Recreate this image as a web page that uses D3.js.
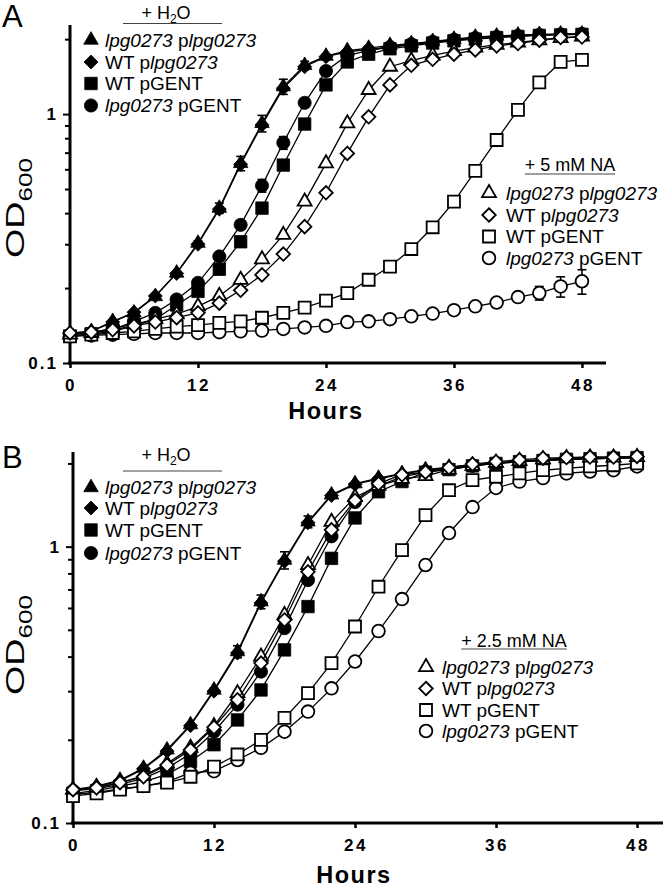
<!DOCTYPE html>
<html><head><meta charset="utf-8">
<script src="https://cdn.jsdelivr.net/npm/d3@7"></script>
<style>body{margin:0;background:#fff}svg{display:block}</style>
</head><body>
<svg id="c" width="666" height="887"></svg>
<script>
// ---------- data ----------
const hours = [0,2,4,6,8,10,12,14,16,18,20,22,24,26,28,30,32,34,36,38,40,42,44,46,48];
const xTickValues = [0,12,24,36,48];
const yTickValues = [0.1,0.2,0.3,0.4,0.5,0.6,0.7,0.8,0.9,1,2];
const yTickLabels = ["0.1","1"];
const strainLabels = ["lpg0273 plpg0273","WT plpg0273","WT pGENT","lpg0273 pGENT"];
const panelLetters = ["A","B"];
const treatmentLabels = ["+ H2O","+ 5 mM NA","+ 2.5 mM NA"];

// Panel A, + H2O (filled symbols)
const A_h2o_lpg_plpg = [0.132,0.134,0.147,0.159,0.185,0.230,0.303,0.419,0.634,0.918,1.29,1.57,1.71,1.80,1.84,1.89,1.92,1.96,2.00,2.04,2.06,2.08,2.09,2.10,2.10];
const A_h2o_wt_plpg  = [0.131,0.134,0.146,0.160,0.186,0.229,0.300,0.415,0.628,0.905,1.27,1.55,1.70,1.78,1.82,1.86,1.90,1.94,1.98,2.02,2.04,2.06,2.08,2.09,2.10];
const A_h2o_wt_pgent = [0.128,0.131,0.134,0.141,0.150,0.171,0.194,0.238,0.307,0.419,0.624,0.912,1.31,1.62,1.74,1.83,1.88,1.93,1.97,2.00,2.03,2.05,2.07,2.08,2.09];
const A_h2o_lpg_pgent= [0.130,0.132,0.136,0.147,0.159,0.180,0.210,0.268,0.359,0.516,0.767,1.11,1.49,1.72,1.80,1.86,1.91,1.95,1.99,2.02,2.04,2.06,2.08,2.09,2.10];
// Panel A, + 5 mM NA (open symbols)
const A_na_lpg_plpg  = [0.130,0.132,0.138,0.143,0.150,0.157,0.169,0.186,0.216,0.261,0.327,0.445,0.634,0.918,1.25,1.55,1.64,1.72,1.79,1.85,1.90,1.94,1.98,2.02,2.05];
const A_na_wt_plpg   = [0.132,0.133,0.136,0.141,0.146,0.152,0.159,0.174,0.196,0.226,0.274,0.353,0.483,0.695,0.975,1.31,1.57,1.66,1.74,1.81,1.88,1.92,1.98,2.03,2.04];
const A_na_wt_pgent  = [0.128,0.130,0.132,0.134,0.137,0.140,0.142,0.145,0.147,0.152,0.159,0.167,0.178,0.191,0.216,0.244,0.287,0.351,0.445,0.591,0.787,1.04,1.34,1.62,1.65];
const A_na_lpg_pgent = [0.128,0.129,0.130,0.131,0.132,0.132,0.132,0.133,0.134,0.135,0.137,0.139,0.141,0.146,0.147,0.150,0.154,0.158,0.163,0.169,0.175,0.184,0.191,0.203,0.213];
// Panel A error bars (SD)
const A_err_h2o_lpg_plpg  = [0,0,0,0,0,0,0.006,0.02,0.042,0.07,0.09,0.06,0.03,0,0,0,0,0,0,0,0,0,0,0,0];
const A_err_h2o_lpg_pgent = [0,0,0,0,0,0,0,0,0.012,0.03,0.045,0.04,0.02,0,0,0,0,0,0,0,0,0,0,0,0];
const A_err_na_lpg_pgent  = [0,0,0,0,0,0,0,0,0,0,0,0,0,0,0,0,0,0,0,0,0,0.006,0.012,0.019,0.024];

// Panel B, + H2O (filled symbols)
const B_h2o_lpg_plpg = [0.132,0.136,0.143,0.158,0.184,0.227,0.303,0.417,0.632,0.894,1.23,1.54,1.69,1.77,1.84,1.90,1.94,1.98,2.01,2.04,2.06,2.08,2.09,2.10,2.10];
const B_h2o_wt_plpg  = [0.131,0.135,0.142,0.157,0.182,0.225,0.300,0.412,0.625,0.885,1.22,1.53,1.68,1.76,1.83,1.89,1.93,1.97,2.00,2.03,2.05,2.07,2.08,2.09,2.10];
const B_h2o_wt_pgent = [0.128,0.131,0.136,0.141,0.150,0.167,0.192,0.236,0.303,0.423,0.607,0.907,1.27,1.58,1.72,1.86,1.90,1.96,2.00,2.03,2.05,2.07,2.08,2.09,2.10];
const B_h2o_lpg_pgent= [0.131,0.133,0.138,0.145,0.158,0.178,0.214,0.268,0.353,0.507,0.757,1.09,1.45,1.66,1.79,1.86,1.91,1.96,2.00,2.03,2.05,2.07,2.08,2.09,2.10];
// Panel B, + 2.5 mM NA (open symbols)
const B_na_lpg_plpg  = [0.132,0.134,0.140,0.148,0.164,0.187,0.224,0.295,0.400,0.566,0.858,1.23,1.51,1.66,1.76,1.80,1.90,1.96,2.01,2.04,2.07,2.09,2.10,2.10,2.11];
const B_na_wt_plpg   = [0.132,0.134,0.140,0.147,0.162,0.184,0.222,0.279,0.379,0.543,0.811,1.15,1.47,1.69,1.82,1.86,1.93,1.99,2.03,2.06,2.09,2.10,2.11,2.11,2.12];
const B_na_wt_pgent  = [0.125,0.128,0.132,0.136,0.140,0.147,0.160,0.177,0.200,0.240,0.295,0.379,0.514,0.716,0.972,1.30,1.60,1.74,1.79,1.84,1.89,1.92,1.95,1.97,2.00];
const B_na_lpg_pgent = [0.127,0.129,0.133,0.136,0.141,0.152,0.154,0.169,0.187,0.214,0.253,0.307,0.384,0.495,0.646,0.858,1.12,1.39,1.63,1.72,1.77,1.84,1.87,1.89,1.95];
// Panel B error bars (SD)
const B_err_h2o_lpg_plpg  = [0,0,0,0,0,0,0.005,0.021,0.036,0.064,0.06,0.03,0,0,0,0,0,0,0,0,0,0,0,0,0];

// ---------- drawing ----------
const svg = d3.select("#c");
const FONT = "'Liberation Sans', Arial, sans-serif";

function symPath(shape, s) {
  if (shape === "diamond") {
    const r = s * 0.52;
    return `M0,${-r}L${r},0L0,${r}L${-r},0Z`;
  }
  if (shape === "triangle") return d3.symbol(d3.symbolTriangle, s * s * 0.5)();
  if (shape === "square") return d3.symbol(d3.symbolSquare, s * s * 0.85)();
  return d3.symbol(d3.symbolCircle, s * s * 0.75)();
}

function drawPanel(cfg) {
  const g = svg.append("g");
  const x = d3.scaleLinear().domain([0, 50]).range(cfg.xr);
  const y = d3.scaleLog().domain(cfg.yd).range(cfg.yr);

  // axes
  const xAxis = d3.axisBottom(x).tickValues(xTickValues).tickSize(5).tickSizeOuter(0).tickFormat("");
  const gx = g.append("g").attr("transform", `translate(0,${cfg.yr[0]})`).call(xAxis);
  gx.select(".domain").attr("stroke-width", 3).attr("d", `M${cfg.xr[0]-2},0H${cfg.xEnd}`);
  gx.selectAll(".tick line").attr("stroke-width", 2.5);
  const yAxis = d3.axisLeft(y).tickValues(yTickValues).tickSize(5).tickSizeOuter(0).tickFormat("");
  const gy = g.append("g").attr("transform", `translate(${cfg.xr[0]},0)`).call(yAxis);
  gy.select(".domain").attr("stroke-width", 3).attr("d", `M0,${cfg.yr[0]+1.5}V${cfg.yr[1]}`);
  gy.selectAll(".tick line").attr("stroke-width", 2).attr("x2", d => (d === 1 || d === 0.1) ? -7 : -5);

  // tick labels
  g.selectAll(".xl").data(xTickValues).enter().append("text")
    .attr("x", d => x(d) + 1).attr("y", cfg.yr[0] + 28)
    .attr("text-anchor", "middle").attr("font-family", FONT).attr("font-weight", "bold")
    .attr("font-size", 17).attr("letter-spacing", 2.5).text(d => d);
  g.selectAll(".yl").data([0.1, 1]).enter().append("text")
    .attr("x", cfg.xr[0] - 12).attr("y", d => y(d) + 6)
    .attr("text-anchor", "end").attr("font-family", FONT).attr("font-weight", "bold")
    .attr("font-size", 17).attr("letter-spacing", 2).text((d, i) => yTickLabels[i]);

  // axis titles
  g.append("text").attr("x", cfg.hoursX).attr("y", cfg.yr[0] + cfg.hoursDy)
    .attr("text-anchor", "middle").attr("font-family", FONT)
    .attr("font-weight", "bold").attr("font-size", 23.5).attr("letter-spacing", 1.5).text("Hours");
  const od = g.append("text").attr("transform", `translate(${cfg.odX},${cfg.odY}) rotate(-90) scale(1.45,1)`)
    .attr("text-anchor", "middle").attr("font-family", FONT).attr("font-size", 26);
  od.append("tspan").text("OD");
  od.append("tspan").attr("font-size", 18).attr("dy", 8).text("600");

  // panel letter
  g.append("text").attr("x", 2).attr("y", cfg.letterY).attr("font-family", FONT)
    .attr("font-size", 31).text(cfg.letter);

  // series
  cfg.series.forEach(s => {
    const pts = hours.map((t, i) => ({ t, v: s.values[i], e: s.err ? s.err[i] : 0 }));
    g.append("path").datum(pts).attr("fill", "none").attr("stroke", "#000").attr("stroke-width", 1.3)
      .attr("d", d3.line().x(d => x(d.t)).y(d => y(d.v)));
    const eb = pts.filter(d => d.e > 0);
    const ge = g.append("g").attr("stroke", "#000").attr("stroke-width", 1.6);
    eb.forEach(d => {
      const y1 = y(d.v + d.e), y2 = y(d.v - d.e), cx = x(d.t);
      ge.append("line").attr("x1", cx).attr("x2", cx).attr("y1", y1).attr("y2", y2);
      ge.append("line").attr("x1", cx - 4.5).attr("x2", cx + 4.5).attr("y1", y1).attr("y2", y1);
      ge.append("line").attr("x1", cx - 4.5).attr("x2", cx + 4.5).attr("y1", y2).attr("y2", y2);
    });
    g.append("g").selectAll("path").data(pts).enter().append("path")
      .attr("transform", d => `translate(${x(d.t)},${y(d.v)})`)
      .attr("d", symPath(s.shape, s.filled ? 13.5 : 13))
      .attr("fill", s.filled ? "#000" : "#fff").attr("stroke", "#000")
      .attr("stroke-width", s.filled ? 0.8 : 1.8);
  });

  // legends
  cfg.legends.forEach(L => {
    const lg = g.append("g");
    const head = lg.append("text").attr("x", L.headX).attr("y", L.headY).attr("text-anchor", "middle")
      .attr("font-family", FONT).attr("font-size", 18);
    if (L.title === treatmentLabels[0]) {
      head.append("tspan").text("+ H");
      head.append("tspan").attr("font-size", 12).attr("dy", 4).text("2");
      head.append("tspan").attr("dy", -4).text("O");
      lg.append("line").attr("x1", L.lineX[0]).attr("x2", L.lineX[1]).attr("y1", L.lineY).attr("y2", L.lineY)
        .attr("stroke", "#444").attr("stroke-width", 1.2);
    } else {
      head.text(L.title);
      const w = head.node().getComputedTextLength();
      lg.append("line").attr("x1", L.headX - w / 2).attr("x2", L.headX + w / 2).attr("y1", L.lineY).attr("y2", L.lineY)
        .attr("stroke", "#444").attr("stroke-width", 1.2);
    }
    strainLabels.forEach((lab, i) => {
      const ry = L.rows[i];
      lg.append("path").attr("transform", `translate(${L.mx},${ry})`)
        .attr("d", symPath(L.shapes[i], L.filled ? 13.5 : 13))
        .attr("fill", L.filled ? "#000" : "#fff").attr("stroke", "#000").attr("stroke-width", L.filled ? 0.8 : 1.8);
      const t = lg.append("text").attr("x", L.tx).attr("y", ry + 6.5).attr("font-family", FONT).attr("font-size", 19);
      const parts = lab.split(" ");
      parts.forEach((p, j) => {
        const sp = j ? " " : "";
        if (p.startsWith("lpg")) { t.append("tspan").attr("font-style", "italic").text(sp + p); }
        else if (p.startsWith("plpg")) {
          t.append("tspan").text(sp + "p");
          t.append("tspan").attr("font-style", "italic").text(p.slice(1));
        } else { t.append("tspan").text(sp + p); }
      });
    });
  });
}

const shapes = ["triangle", "diamond", "square", "circle"];

drawPanel({
  letter: panelLetters[0], letterY: 27,
  xr: [70, 603.3], xEnd: 606, yd: [0.1, 2.28], yr: [363, 25],
  hoursX: 326, hoursDy: 56, odX: 24, odY: 208,
  series: [
    { values: A_h2o_lpg_pgent, shape: "circle", filled: true, err: A_err_h2o_lpg_pgent },
    { values: A_h2o_wt_pgent, shape: "square", filled: true },
    { values: A_h2o_wt_plpg, shape: "diamond", filled: true },
    { values: A_h2o_lpg_plpg, shape: "triangle", filled: true, err: A_err_h2o_lpg_plpg },
    { values: A_na_lpg_pgent, shape: "circle", filled: false, err: A_err_na_lpg_pgent },
    { values: A_na_wt_pgent, shape: "square", filled: false },
    { values: A_na_lpg_plpg, shape: "triangle", filled: false },
    { values: A_na_wt_plpg, shape: "diamond", filled: false }
  ],
  legends: [
    { title: treatmentLabels[0], headX: 166, headY: 19, lineX: [123, 222], lineY: 23.5, mx: 91, tx: 105, rows: [40, 62, 83.5, 105.5], shapes, filled: true },
    { title: treatmentLabels[1], headX: 570, headY: 171, lineY: 174, mx: 489, tx: 506, rows: [193, 215, 236.5, 258], shapes, filled: false }
  ]
});

drawPanel({
  letter: panelLetters[1], letterY: 468,
  xr: [73, 660.5], xEnd: 663, yd: [0.1, 2.2], yr: [823, 452],
  hoursX: 354, hoursDy: 60, odX: 24, odY: 645,
  series: [
    { values: B_h2o_lpg_pgent, shape: "circle", filled: true },
    { values: B_h2o_wt_pgent, shape: "square", filled: true },
    { values: B_h2o_wt_plpg, shape: "diamond", filled: true },
    { values: B_h2o_lpg_plpg, shape: "triangle", filled: true, err: B_err_h2o_lpg_plpg },
    { values: B_na_lpg_pgent, shape: "circle", filled: false },
    { values: B_na_wt_pgent, shape: "square", filled: false },
    { values: B_na_lpg_plpg, shape: "triangle", filled: false },
    { values: B_na_wt_plpg, shape: "diamond", filled: false }
  ],
  legends: [
    { title: treatmentLabels[0], headX: 166, headY: 461, lineX: [123, 222], lineY: 471, mx: 91, tx: 105, rows: [487.5, 508, 530, 553], shapes, filled: true },
    { title: treatmentLabels[2], headX: 514, headY: 647, lineY: 649, mx: 426, tx: 442, rows: [667, 688.5, 710, 731], shapes, filled: false }
  ]
});
</script>
</body></html>
